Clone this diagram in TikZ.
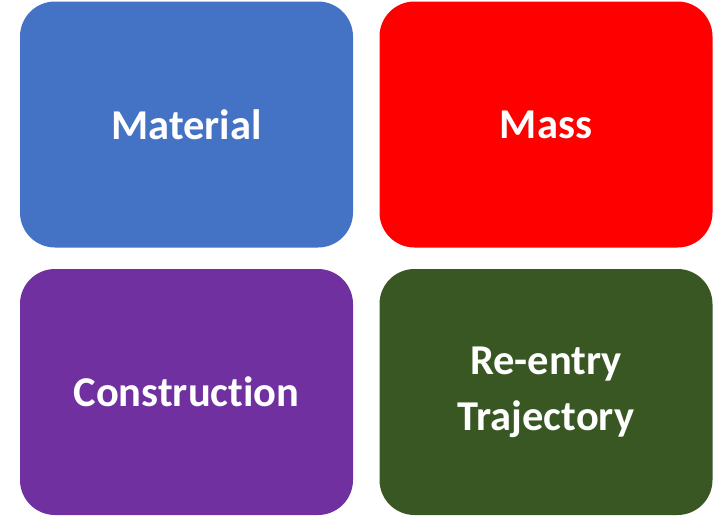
\documentclass[tikz,border=0pt]{standalone}
\usepackage{fontspec}
\setmainfont[Ligatures={NoCommon}]{Carlito}
\definecolor{cblue}{HTML}{4472C4}
\definecolor{cred}{HTML}{FF0000}
\definecolor{cpurple}{HTML}{7030A0}
\definecolor{cgreen}{HTML}{385723}
\tikzset{
  card/.style={rounded corners=35pt, minimum width=333pt, minimum height=246pt, inner sep=0pt,
    text=white, font=\fontsize{42.5}{56}\selectfont\bfseries, align=center, anchor=center}
}
\begin{document}
\begin{tikzpicture}[x=1pt,y=-1pt]
\useasboundingbox (0,0) rectangle (715,515);
\node[card, fill=cblue] (material) at (186.5,124.5) {Material};
\node[card, fill=cred] (mass) at (546,124.5) {Mass};
\node[card, fill=cpurple] (construction) at (186.5,392) {Construction};
\node[card, fill=cgreen] (reentry) at (546,392) {Re-entry\\Trajectory};
\end{tikzpicture}
\end{document}
